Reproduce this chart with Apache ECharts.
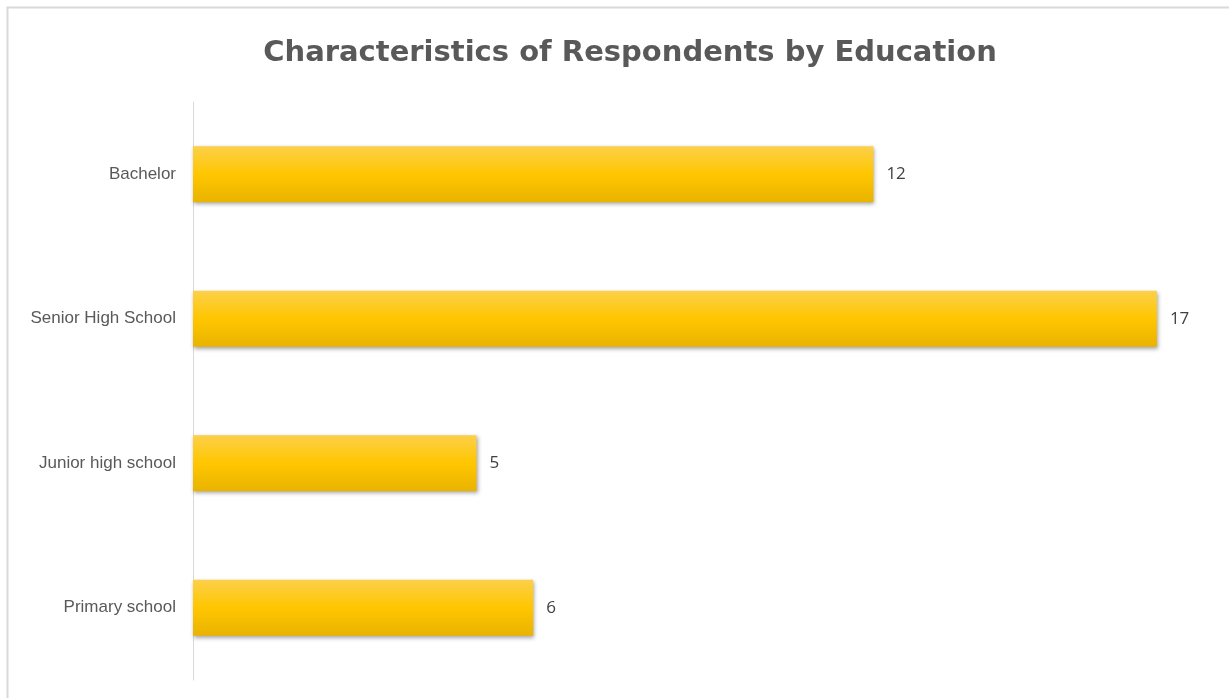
<!DOCTYPE html>
<html><head><meta charset="utf-8">
<script src="https://cdn.jsdelivr.net/npm/echarts@6/dist/echarts.min.js"></script>
<style>html,body{margin:0;padding:0;background:#fff}#c{width:1229px;height:698px}</style>
</head><body><div id="c"></div>
<script>
const categories = ['Primary school', 'Junior high school', 'Senior High School', 'Bachelor'];
const values = [6, 5, 17, 12];
const titleText = 'Characteristics of Respondents by Education';

const chart = echarts.init(document.getElementById('c'));
chart.setOption({
  animation: false,
  backgroundColor: '#ffffff',
  title: {
    text: titleText, left: 625, textAlign: 'center', top: 34,
    textStyle: { fontFamily: '"DejaVu Sans", sans-serif', fontWeight: 'bold', fontSize: 29, color: '#595959' }
  },
  graphic: [{
    type: 'rect', shape: { x: 7.5, y: 7.5, width: 1240, height: 720 },
    style: { fill: 'none', stroke: '#d9d9d9', lineWidth: 2 }, silent: true, z: -1
  }],
  grid: { left: 193, right: 15.4, top: 102, bottom: 18, containLabel: false },
  xAxis: { type: 'value', min: 0, max: 18, show: false },
  yAxis: {
    type: 'category', data: categories,
    axisLine: { show: true, lineStyle: { color: '#d9d9d9', width: 1 } },
    axisTick: { show: false },
    axisLabel: { color: '#595959', fontSize: 17, margin: 17, fontFamily: '"Liberation Sans", Arial, sans-serif' }
  },
  series: [{
    type: 'bar', data: values, barWidth: 56,
    itemStyle: {
      color: new echarts.graphic.LinearGradient(0, 0, 0, 1, [
        { offset: 0, color: '#fcd04a' },
        { offset: 0.5, color: '#ffc600' },
        { offset: 1, color: '#e9b300' }
      ]),
      shadowColor: 'rgba(0,0,0,0.35)', shadowBlur: 4, shadowOffsetX: 1, shadowOffsetY: 2
    },
    label: { show: true, position: 'right', distance: 13, color: '#404040', fontSize: 17, fontFamily: '"Open Sans", sans-serif' }
  }]
});
</script></body></html>
